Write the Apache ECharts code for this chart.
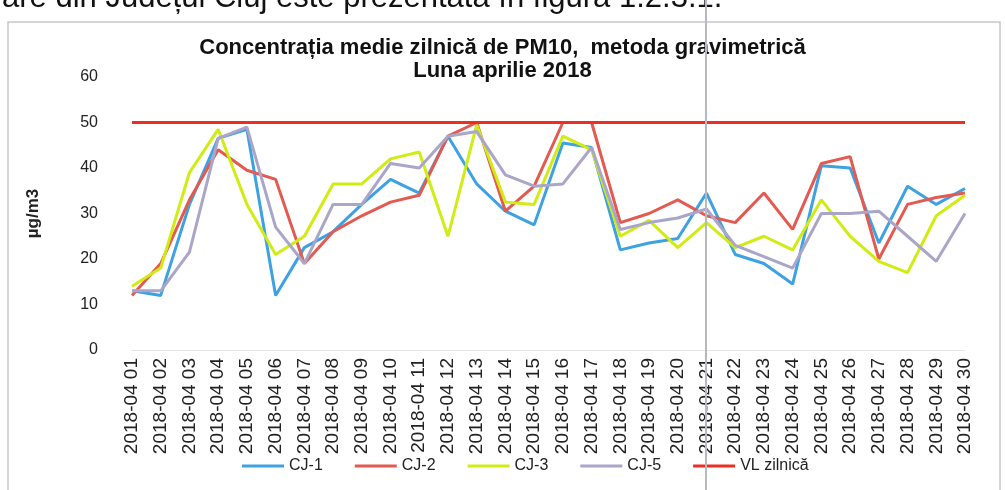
<!DOCTYPE html>
<html lang="ro">
<head>
    <meta charset="utf-8">
    <title>PM10 aprilie 2018</title>
    <script src="https://cdn.jsdelivr.net/npm/echarts@6/dist/echarts.min.js"></script>
    <style type="text/css">
        html, body {
            margin: 0;
            padding: 0;
            background: #fff;
        }
    </style>
</head>
<body>
<div id="main" style="width: 1005px;height:490px"></div>

<script type="text/javascript">
    // zilele lunii aprilie
    var zile = [];
    for (var d = 1; d <= 30; d++) {
        zile.push('2018-04 ' + (d < 10 ? '0' + d : d));
    }

    var cj1 = [13, 12, 32, 46.5, 48.5, 12, 22.5, 26, 32, 37.5, 34.5, 47, 36.5, 30.5, 27.5,
        45.5, 44.5, 22, 23.5, 24.5, 34.5, 21, 19, 14.5, 40.5, 40, 23.5, 36, 32, 35.5];
    var cj2 = [12, 19, 33, 44, 39.5, 37.5, 19, 26, 29.5, 32.5, 34, 47, 50, 30.5, 36,
        50, 50, 28, 30, 33, 29.5, 28, 34.5, 26.5, 41, 42.5, 20, 32, 33.5, 34.5];
    var cj3 = [14, 18, 39, 48.5, 32, 21, 25, 36.5, 36.5, 42, 43.5, 25, 49.5, 32.5, 32,
        47, 44, 25, 28.5, 22.5, 28, 22.5, 25, 22, 33, 25, 19.5, 17, 29.5, 34];
    var cj5 = [13, 13, 21.5, 46.5, 49, 27, 19, 32, 32, 41, 40, 47, 48, 38.5, 36,
        36.5, 44.5, 26.5, 28, 29, 31, 23, 20.5, 18, 30, 30, 30.5, 25, 19.5, 30];
    var vl = [50, 50, 50, 50, 50, 50, 50, 50, 50, 50, 50, 50, 50, 50, 50,
        50, 50, 50, 50, 50, 50, 50, 50, 50, 50, 50, 50, 50, 50, 50];

    function linie(nume, date, culoare, lat) {
        return {
            name: nume,
            type: 'line',
            data: date,
            symbol: 'none',
            lineStyle: {color: culoare, width: lat},
            itemStyle: {color: culoare}
        };
    }

    var myChart = echarts.init(document.getElementById('main'));
    var option = {
        animation: false,
        textStyle: {fontFamily: 'Liberation Sans'},
        title: {
            text: 'Concentrația medie zilnică de PM10,  metoda gravimetrică\nLuna aprilie 2018',
            left: 'center',
            top: 31,
            textStyle: {fontSize: 22, fontWeight: 'bold', color: '#111', lineHeight: 23}
        },
        graphic: [
            {
                type: 'text', left: 2, top: -17,
                style: {text: 'are din Județul Cluj este prezentată în figura 1.2.3.1.', font: '31px Liberation Sans', fill: '#111'}
            },
            {
                type: 'rect', shape: {x: 8, y: 22, width: 992, height: 470},
                style: {fill: 'none', stroke: '#c8c8c8', lineWidth: 1.5}
            },
            {
                type: 'line', shape: {x1: 706, y1: 0, x2: 706, y2: 490},
                style: {stroke: '#b8b8c0', lineWidth: 2}, z: 100
            }
        ],
        legend: {
            bottom: 11,
            left: 237,
            itemWidth: 42,
            itemHeight: 3,
            itemGap: 32,
            icon: 'rect',
            textStyle: {fontSize: 16, color: '#222'},
            data: ['CJ-1', 'CJ-2', 'CJ-3', 'CJ-5', 'VL zilnică']
        },
        grid: {left: 132, right: 40, top: 77, bottom: 140},
        xAxis: {
            type: 'category',
            data: zile,
            boundaryGap: false,
            axisLine: {lineStyle: {color: '#e4e4e4'}},
            axisTick: {show: false},
            axisLabel: {rotate: 90, interval: 0, fontSize: 19, color: '#222', margin: 8}
        },
        yAxis: {
            type: 'value',
            min: 0,
            max: 60,
            interval: 10,
            name: 'µg/m3',
            nameLocation: 'middle',
            nameRotate: 90,
            nameGap: 90,
            nameTextStyle: {fontSize: 17, fontWeight: 'bold', color: '#222'},
            axisLine: {show: false},
            axisTick: {show: false},
            splitLine: {show: false},
            axisLabel: {fontSize: 16, color: '#222', margin: 34}
        },
        series: [
            linie('CJ-1', cj1, '#3ea2e2', 3),
            linie('CJ-2', cj2, '#e45a50', 3),
            linie('CJ-3', cj3, '#d0ec12', 3),
            linie('CJ-5', cj5, '#a9a6c9', 3),
            linie('VL zilnică', vl, '#ee2e22', 3)
        ]
    };
    myChart.setOption(option);
</script>
</body>
</html>
